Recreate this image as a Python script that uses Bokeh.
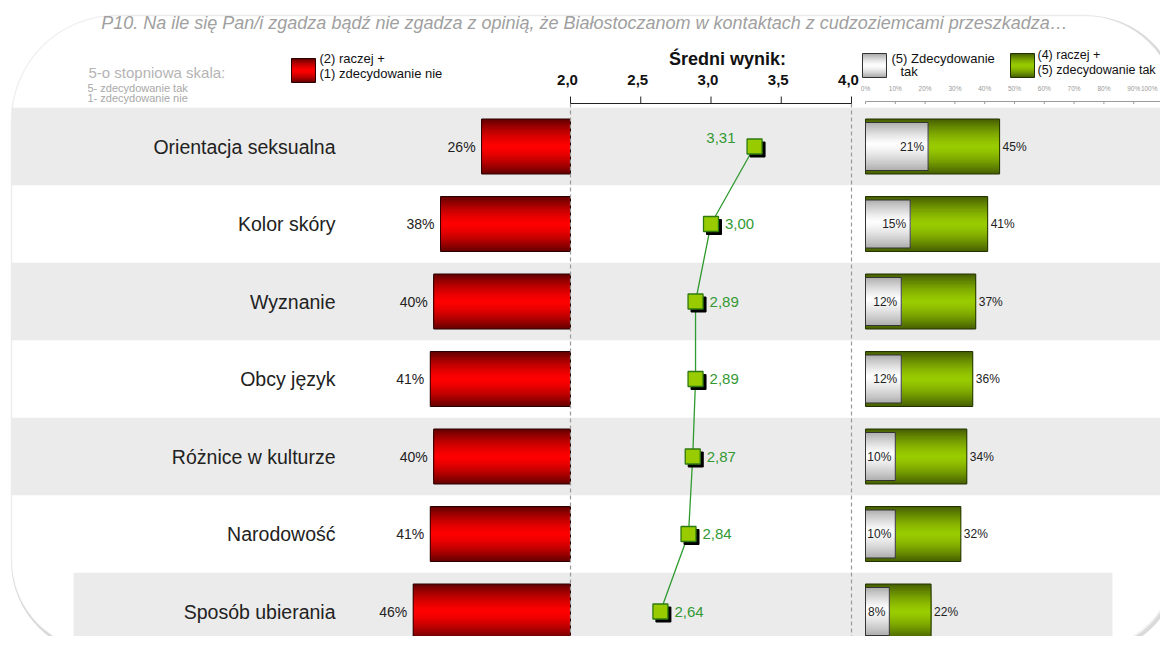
import numpy as np
from bokeh.plotting import figure
from bokeh.models import Range1d, ColumnDataSource, BoxAnnotation, Label
from bokeh.embed import file_html
from bokeh.resources import INLINE
from bokeh.core.properties import value

# ---------------- data ----------------
categories = ["Orientacja seksualna", "Kolor skóry", "Wyznanie", "Obcy język",
              "Różnice w kulturze", "Narodowość", "Sposób ubierania"]
neg_pct = [26, 38, 40, 41, 40, 41, 46]          # (2) raczej + (1) zdecydowanie nie
mean_score = [3.31, 3.00, 2.89, 2.89, 2.87, 2.84, 2.64]
strong_yes = [21, 15, 12, 12, 10, 10, 8]        # (5) zdecydowanie tak
pos_pct = [45, 41, 37, 36, 34, 32, 22]          # (4) raczej + (5) zdecydowanie tak
mean_ticks = [2.0, 2.5, 3.0, 3.5, 4.0]
mean_tick_labels = ["2,0", "2,5", "3,0", "3,5", "4,0"]
pct_ticks = list(range(0, 101, 10))
pct_tick_labels = [f"{t}%" for t in pct_ticks]

title_text = ("P10. Na ile się Pan/i zgadza bądź nie zgadza z opinią, że Białostoczanom "
              "w kontaktach z cudzoziemcami przeszkadza…")

# ---------------- layout constants (reference pixel space) ----------------
W, H = 1160, 636
X0, Y0 = 0, 0
ROW0, ROW_H = 146.0, 77.5
NEG_ZERO, NEG_PX = 570.0, 3.42
MEAN_AT2, MEAN_PX = 570.0, 140.5
POS_ZERO, POS_PX = 865.0, 2.98

rows = list(range(len(categories)))
FONT = value("Liberation Sans")

p = figure(width=W, height=H, output_backend="svg", toolbar_location=None,
           x_axis_type=None, y_axis_type=None, min_border=0,
           x_range=Range1d(X0, X0 + W), y_range=Range1d(Y0 + H, Y0))
p.outline_line_color = None
p.background_fill_color = "white"
p.border_fill_color = "white"
p.xgrid.visible = False
p.ygrid.visible = False

p.extra_x_ranges = {
    "neg": Range1d((NEG_ZERO - X0) / NEG_PX, (NEG_ZERO - (X0 + W)) / NEG_PX),
    "mean": Range1d(2 + (X0 - MEAN_AT2) / MEAN_PX, 2 + (X0 + W - MEAN_AT2) / MEAN_PX),
    "pos": Range1d((X0 - POS_ZERO) / POS_PX, (X0 + W - POS_ZERO) / POS_PX),
}
p.extra_y_ranges = {"rows": Range1d((Y0 + H - ROW0) / ROW_H, (Y0 - ROW0) / ROW_H)}

# ---------------- frame ----------------
radius = dict(top_left=105, top_right=92, bottom_right=92, bottom_left=90)
shadow = BoxAnnotation(left=13, right=1178, top=17, bottom=652, fill_alpha=0,
                       line_color="#858585", line_width=4, level="underlay",
                       border_radius=radius)
frame = BoxAnnotation(left=11, right=1176, top=15, bottom=650, fill_color="white", fill_alpha=1,
                      line_color="#d2d2d2", line_width=1.5, level="underlay",
                      border_radius=radius)
p.add_layout(shadow)
p.add_layout(frame)

# ---------------- alternating row bands ----------------
band_rows = [i for i in rows if i % 2 == 0]
band_left = [11 if i < len(rows) - 1 else 73 for i in band_rows]
band_right = [1176 if i < len(rows) - 1 else 1112 for i in band_rows]
p.quad(left=band_left, right=band_right,
       top=[i - 0.5 for i in band_rows], bottom=[i + 0.5 for i in band_rows],
       y_range_name="rows", fill_color="#ebebeb", line_color=None)


# ---------------- gradient helper (nested rectangles, no seams) ----------------
def hex2rgb(h):
    h = h.lstrip("#")
    return np.array([int(h[k:k + 2], 16) for k in (0, 2, 4)], dtype=float)


def grad_nested(lefts, rights, centers, height, c_mid, c_edge, n=20, peak=0.5, power=1.5):
    cm, ce = hex2rgb(c_mid), hex2rgb(c_edge)
    L, R, T, B, C = [], [], [], [], []
    for l, r, c in zip(lefts, rights, centers):
        top = c - height / 2
        pk = top + peak * height
        for k in range(n):
            s = 1 - k / n                  # relative size of this layer
            t = s ** power                 # 1 at the outer edge, 0 near the peak
            col = cm * (1 - t) + ce * t
            L.append(l); R.append(r)
            T.append(pk - s * peak * height)
            B.append(pk + s * (1 - peak) * height)
            C.append("#%02x%02x%02x" % tuple(int(round(v)) for v in col))
    return ColumnDataSource(dict(left=L, right=R, top=T, bottom=B, color=C))


BAR_H = 55 / ROW_H
IN_H = 48 / ROW_H

# ---------------- left: red bars ----------------
src = grad_nested(neg_pct, [0] * len(rows), rows, BAR_H, "#ff0000", "#660000")
p.quad(left="left", right="right", top="top", bottom="bottom", fill_color="color",
       line_color=None, source=src, x_range_name="neg", y_range_name="rows")
p.quad(left=neg_pct, right=[0] * len(rows), top=[i - BAR_H / 2 for i in rows],
       bottom=[i + BAR_H / 2 for i in rows], fill_color=None, line_color="#2a0000",
       line_width=1, x_range_name="neg", y_range_name="rows")
p.text(x=neg_pct, y=rows, text=[f"{v}%" for v in neg_pct], x_range_name="neg",
       y_range_name="rows", x_offset=-6, text_align="right", text_baseline="middle",
       text_font=FONT, text_font_size="14px", text_color="#222222")

# category labels
p.text(x=[335] * len(rows), y=rows, text=categories, y_range_name="rows",
       text_align="right", text_baseline="middle", text_font=FONT,
       text_font_size="19.5px", text_color="#222222")

# ---------------- middle: mean score ----------------
p.segment(x0=[mean_ticks[0], mean_ticks[-1]], x1=[mean_ticks[0], mean_ticks[-1]],
          y0=[103, 103], y1=[650, 650], x_range_name="mean",
          line_color="#9a9a9a", line_width=1.2, line_dash="4 3")
p.segment(x0=[mean_ticks[0]], x1=[mean_ticks[-1]], y0=[103], y1=[103],
          x_range_name="mean", line_color="#222222", line_width=1)
p.segment(x0=mean_ticks, x1=mean_ticks, y0=[96] * len(mean_ticks), y1=[103] * len(mean_ticks),
          x_range_name="mean", line_color="#222222", line_width=1)
p.text(x=mean_ticks, y=[79] * len(mean_ticks), text=mean_tick_labels, x_range_name="mean",
       x_offset=-3, text_align="center", text_baseline="middle", text_font=FONT,
       text_font_size="15px", text_font_style="bold", text_color="#111111")
p.add_layout(Label(x=727, y=58, text="Średni wynik:", text_align="center",
                   text_baseline="middle", text_font="Liberation Sans",
                   text_font_size="18px", text_font_style="bold", text_color="#111111"))

p.line(x=mean_score, y=rows, x_range_name="mean", y_range_name="rows",
       line_color="#2f9a2f", line_width=1.3)
p.scatter(x=[m + 3 / MEAN_PX for m in mean_score], y=[i + 3 / ROW_H for i in rows],
          marker="square", size=15, fill_color="black", line_color="black",
          x_range_name="mean", y_range_name="rows")
p.scatter(x=mean_score, y=rows, marker="square", size=15, fill_color="#99cc00",
          line_color="#2f7a10", line_width=1.3, x_range_name="mean", y_range_name="rows")
p.text(x=mean_score[:1], y=rows[:1], text=[f"{m:.2f}".replace(".", ",") for m in mean_score[:1]],
       x_range_name="mean", y_range_name="rows", x_offset=-19, y_offset=-9,
       text_align="right", text_baseline="middle", text_font=FONT,
       text_font_size="15px", text_color="#339933")
p.text(x=mean_score[1:], y=rows[1:], text=[f"{m:.2f}".replace(".", ",") for m in mean_score[1:]],
       x_range_name="mean", y_range_name="rows", x_offset=14, y_offset=0,
       text_align="left", text_baseline="middle", text_font=FONT,
       text_font_size="15px", text_color="#339933")

# ---------------- right: green / gray bars ----------------
p.segment(x0=[0], x1=[100], y0=[101], y1=[101], x_range_name="pos",
          line_color="#9a9a9a", line_width=1)
p.segment(x0=pct_ticks, x1=pct_ticks, y0=[101] * len(pct_ticks), y1=[103.5] * len(pct_ticks),
          x_range_name="pos", line_color="#9a9a9a", line_width=1)
p.text(x=pct_ticks[:-1], y=[88] * (len(pct_ticks) - 1), text=pct_tick_labels[:-1],
       x_range_name="pos", text_align="center", text_baseline="middle", text_font=FONT,
       text_font_size="6.5px", text_color="#9a9a9a")
p.text(x=pct_ticks[-1:], y=[88], text=pct_tick_labels[-1:], x_range_name="pos",
       x_offset=-6, text_align="right", text_baseline="middle", text_font=FONT,
       text_font_size="6.5px", text_color="#9a9a9a")

gsrc = grad_nested([0] * len(rows), pos_pct, rows, BAR_H, "#99cc00", "#476000")
p.quad(left="left", right="right", top="top", bottom="bottom", fill_color="color",
       line_color=None, source=gsrc, x_range_name="pos", y_range_name="rows")
p.quad(left=[0] * len(rows), right=pos_pct, top=[i - BAR_H / 2 for i in rows],
       bottom=[i + BAR_H / 2 for i in rows], fill_color=None, line_color="#223300",
       line_width=1, x_range_name="pos", y_range_name="rows")
wsrc = grad_nested([0] * len(rows), strong_yes, rows, IN_H, "#ffffff", "#b0b0b0",
                   peak=0.45, power=1.3)
p.quad(left="left", right="right", top="top", bottom="bottom", fill_color="color",
       line_color=None, source=wsrc, x_range_name="pos", y_range_name="rows")
p.quad(left=[0] * len(rows), right=strong_yes, top=[i - IN_H / 2 for i in rows],
       bottom=[i + IN_H / 2 for i in rows], fill_color=None, line_color="#333333",
       line_width=1, x_range_name="pos", y_range_name="rows")
p.text(x=pos_pct, y=rows, text=[f"{v}%" for v in pos_pct], x_range_name="pos",
       y_range_name="rows", x_offset=3, text_align="left", text_baseline="middle",
       text_font=FONT, text_font_size="12px", text_color="#222222")
p.text(x=strong_yes, y=rows, text=[f"{v}%" for v in strong_yes], x_range_name="pos",
       y_range_name="rows", x_offset=-4, text_align="right", text_baseline="middle",
       text_font=FONT, text_font_size="12px", text_color="#222222")

# ---------------- header ----------------
p.add_layout(Label(x=584, y=22, text=title_text, text_align="center", text_baseline="middle",
                   text_font="Liberation Sans", text_font_size="18px",
                   text_font_style="italic", text_color="#a0a0a0"))
p.add_layout(Label(x=88, y=72, text="5-o stopniowa skala:", text_baseline="middle",
                   text_font="Liberation Sans", text_font_size="15px", text_color="#b4b4b4"))
p.add_layout(Label(x=87, y=87, text="5- zdecydowanie tak", text_baseline="middle",
                   text_font="Liberation Sans", text_font_size="11px", text_color="#a8a8a8"))
p.add_layout(Label(x=87, y=97, text="1- zdecydowanie nie", text_baseline="middle",
                   text_font="Liberation Sans", text_font_size="11px", text_color="#a8a8a8"))

# legend swatches (gradient rectangles in pixel space)
sw = [("#ff0000", "#660000", 291, 315, 70, "#2a0000"),
      ("#ffffff", "#a8a8a8", 862, 886, 65, "#333333"),
      ("#99cc00", "#476000", 1010, 1034, 65, "#223300")]
for cm, ce, l, r, cy, lc in sw:
    s = grad_nested([l], [r], [cy], 24, cm, ce, n=12)
    p.quad(left="left", right="right", top="top", bottom="bottom", fill_color="color",
           line_color=None, source=s)
    p.quad(left=[l], right=[r], top=[cy - 12], bottom=[cy + 12], fill_color=None,
           line_color=lc, line_width=1)

legend_texts = [(319, 58, "(2) raczej +", "13px"), (319, 73, "(1) zdecydowanie nie", "13px"),
                (891, 58, "(5) Zdecydowanie", "13px"), (900, 71, "tak", "13px"),
                (1037, 54, "(4) raczej +", "12.5px"), (1037, 69, "(5) zdecydowanie tak", "12.5px")]
for x, y, t, fs in legend_texts:
    p.add_layout(Label(x=x, y=y, text=t, text_baseline="middle", text_font="Liberation Sans",
                       text_font_size=fs, text_color="#111111"))

open("out.html", "w").write(file_html(p, INLINE))
